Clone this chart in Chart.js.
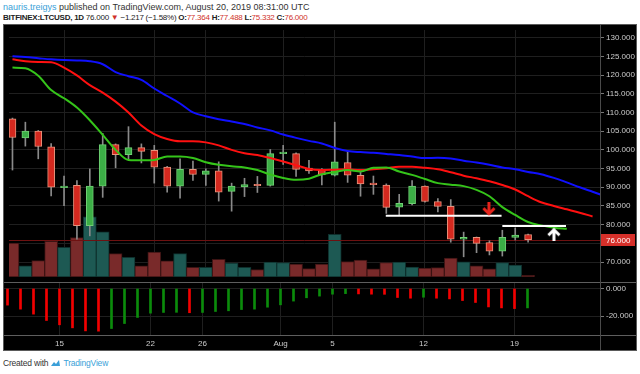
<!DOCTYPE html>
<html>
<head>
<meta charset="utf-8">
<script src="https://cdn.jsdelivr.net/npm/chart.js@4.4.1/dist/chart.umd.min.js"></script>
<style>
    body { margin: 0; width: 640px; height: 374px; overflow: hidden; background: #fff; position: relative;
           font-family: "Liberation Sans", Arial, sans-serif; }
    .hdr { position: absolute; left: 3px; white-space: nowrap; font-size: 9px; color: #333; }
    #hdr1 { top: 2px; }
    #hdr2 { top: 12.5px; color: #222; font-size: 8px; letter-spacing: -0.25px; }
    .user { color: #3a9fd8; }
    .red { color: #d0312a; }
    #box { position: absolute; left: 3px; top: 24px; width: 634px; height: 327px; box-sizing: border-box;
           background: #000; border: 1px solid #5a5a5a; }
    #priceChart { position: absolute; left: 4px; top: 25px; }
    #oscChart { position: absolute; left: 4px; top: 283px; }
    .sep { position: absolute; background: #4a4a4a; }
    #footer { position: absolute; left: 3px; top: 358px; font-size: 8.5px; color: #333; white-space: nowrap; letter-spacing: -0.2px; }
    #footer .tv { color: #3a9fd8; }
</style>
</head>
<body>
<div class="hdr" id="hdr1"><span class="user">nauris.treigys</span> published on TradingView.com, August 20, 2019 08:31:00 UTC</div>
<div class="hdr" id="hdr2"><b>BITFINEX:LTCUSD, 1D</b> 76.000 <span class="red">&#9660;</span> &minus;1.217 (&minus;1.58%) <b>O:</b><span class="red">77.364</span> <b>H:</b><span class="red">77.488</span> <b>L:</b><span class="red">75.332</span> <b>C:</b><span class="red">76.000</span></div>
<div id="box"></div>
<canvas id="priceChart" width="632" height="257"></canvas>
<canvas id="oscChart" width="632" height="67"></canvas>
<div class="sep" style="left:4px;top:282px;width:632px;height:1px;background:#5e5e5e"></div>
<div class="sep" style="left:4px;top:335px;width:632px;height:1px;background:#5e5e5e"></div>
<div class="sep" style="left:600px;top:25px;width:1px;height:325px"></div>
<div id="footer">Created with <svg width="11" height="8" viewBox="0 0 11 8" style="vertical-align:-1px"><path d="M1 7 L4 3 L6 5 L9 1 L10 7 Z" fill="#3a9fd8"/></svg> <span class="tv">TradingView</span></div>

<script>
// Daily candles, Jul 11 to Aug 20 2019
const days = ['Jul 11', 'Jul 12', 'Jul 13', 'Jul 14', 'Jul 15', 'Jul 16', 'Jul 17', 'Jul 18', 'Jul 19', 'Jul 20',
    'Jul 21', 'Jul 22', 'Jul 23', 'Jul 24', 'Jul 25', 'Jul 26', 'Jul 27', 'Jul 28', 'Jul 29', 'Jul 30', 'Jul 31',
    'Aug 1', 'Aug 2', 'Aug 3', 'Aug 4', 'Aug 5', 'Aug 6', 'Aug 7', 'Aug 8', 'Aug 9', 'Aug 10',
    'Aug 11', 'Aug 12', 'Aug 13', 'Aug 14', 'Aug 15', 'Aug 16', 'Aug 17', 'Aug 18', 'Aug 19', 'Aug 20'];
const opens = [108.3, 103.2, 105.0, 100.8, 89.9, 90.5, 79.7, 90.3, 101.4, 98.7,
    100.6, 99.9, 95.4, 90.3, 94.8, 93.4, 94.4, 88.9, 90.1, 90.55, 90.5,
    99.0, 99.0, 95.1, 94.5, 93.2, 96.6, 93.2, 91.0, 90.6, 84.7,
    85.6, 90.3, 86.2, 84.9, 76.1, 76.6, 75.2, 72.9, 76.6, 77.364];
const highs = [108.5, 107.4, 105.2, 101.7, 93.0, 91.8, 94.9, 104.4, 101.6, 106.2,
    101.6, 101.2, 95.6, 97.6, 97.0, 94.9, 96.8, 91.1, 92.4, 92.9, 100.1,
    101.2, 99.2, 97.2, 95.0, 107.4, 99.7, 94.6, 93.0, 90.9, 88.1,
    91.8, 90.4, 87.0, 86.7, 78.0, 76.7, 75.7, 78.5, 79.1, 77.488];
const lows = [94.6, 101.0, 97.6, 87.7, 85.1, 76.1, 77.0, 87.3, 95.2, 97.6,
    96.5, 91.1, 88.7, 87.1, 91.8, 90.5, 86.3, 83.6, 87.5, 88.6, 90.3,
    96.1, 92.9, 93.7, 90.6, 93.0, 91.3, 87.6, 88.1, 83.0, 82.6,
    85.3, 86.0, 83.4, 75.3, 71.4, 72.5, 71.9, 71.6, 75.9, 75.332];
const closes = [103.3, 105.0, 100.9, 90.0, 90.3, 79.7, 90.3, 101.4, 98.7, 100.6,
    99.6, 95.4, 90.3, 94.8, 93.4, 94.4, 88.7, 90.3, 90.7, 90.4, 99.0,
    99.2, 94.8, 94.4, 93.3, 96.8, 93.2, 90.9, 90.7, 84.6, 85.7,
    90.3, 86.2, 84.9, 76.1, 76.6, 75.0, 72.9, 76.6, 77.217, 76.0];
// volume, thousands (no axis shown)
const volumes = [354, 117, 170, 370, 310, 410, 627, 470, 244, 204,
    117, 260, 167, 244, 100, 100, 184, 144, 100, 77, 154,
    150, 134, 87, 134, 444, 160, 177, 84, 150, 154,
    104, 94, 97, 197, 157, 117, 84, 150, 124, 17];

// Alligator lines, shifted forward past the last candle
const jaw = [125.0, 124.8, 124.5, 124.2, 124.0, 123.9, 123.7, 122.9, 120.8, 119.7,
    118.7, 116.4, 114.4, 112.4, 110.0, 109.0, 108.2, 107.6, 106.9, 106.0, 105.2,
    104.1, 103.2, 102.4, 101.7, 100.5, 99.7, 99.4, 99.2, 98.9, 98.6,
    98.2, 97.8, 97.9, 97.7, 97.1, 96.6, 96.0, 95.3, 94.8, 94.1,
    93.5, 92.5, 91.3, 90.0, 88.8, 87.6];
const teeth = [124.2, 123.7, 123.5, 123.4, 122.0, 119.9, 117.3, 115.3, 112.9, 110.0,
    106.5, 104.2, 102.9, 102.3, 102.3, 102.0, 101.2, 100.0, 99.1, 98.6, 97.8,
    96.9, 95.9, 94.9, 94.6, 94.7, 94.8, 94.6, 94.8, 95.1, 95.5,
    95.5, 95.2, 94.8, 94.0, 93.1, 92.4, 91.6, 90.6, 89.4, 87.6,
    86.0, 85.0, 84.1, 83.2, 82.2];
const lips = [122.0, 121.8, 119.8, 116.0, 113.8, 111.3, 107.9, 104.0, 100.0, 97.3,
    97.2, 97.3, 98.2, 98.2, 97.8, 96.7, 96.0, 95.6, 95.3, 94.6, 93.4,
    92.5, 92.0, 92.3, 93.5, 94.1, 94.6, 94.2, 95.2, 95.3, 94.2,
    93.3, 92.2, 91.1, 90.7, 90.3, 89.3, 87.6, 84.7, 82.6, 80.7,
    79.8, 79.2, 78.9];

// lower pane oscillator
const oscillator = [-12.0, -14.9, -18.5, -23.1, -26.2, -28.4, -30.6, -30.8, -28.9, -25.3,
    -20.9, -17.8, -17.3, -17.2, -17.5, -17.3, -16.6, -16.1, -15.2, -14.9, -13.5,
    -11.8, -9.1, -6.7, -5.5, -4.1, -3.7, -3.9, -4.1, -4.2, -6.5,
    -7.0, -6.3, -7.0, -7.5, -8.7, -10.1, -13.3, -14.0, -14.5, -14.0];

// axes
const dateTickIndex = [4, 11, 15, 21, 25, 32, 39];
const dateTickLabels = ['15', '22', '26', 'Aug', '5', '12', '19'];
const priceTicks = [70, 75, 80, 85, 90, 95, 100, 105, 110, 115, 120, 125, 130];
const oscTicks = [0, -20];
const lastClose = 76.0;

// drawn annotations: [fromIndex, toIndex, price]
const supportLines = [[28.96, 37.94, 82.37], [38.0, 42.94, 79.62]];
// [index, price, colour, pointing down]
const arrows = [[36.96, 84.12, '#e8241c', true], [42.0, 77.44, '#ffffff', false]];

const X_MIN = -0.2692;
const X_MAX = 45.577;
const FONT = { family: 'Liberation Sans, Arial, sans-serif', size: 8 };
const GRID = '#1f1f1f';

const rising = opens.map((o, i) => closes[i] >= o);

function arrowImage(color, down) {
    const c = document.createElement('canvas');
    c.width = 14; c.height = 14;
    const g = c.getContext('2d');
    g.strokeStyle = color;
    g.lineWidth = 3;
    g.lineCap = 'square';
    g.beginPath();
    if (down) {
        g.moveTo(7, 1); g.lineTo(7, 11);
        g.moveTo(2.5, 7); g.lineTo(7, 11.5); g.lineTo(11.5, 7);
    } else {
        g.moveTo(7, 13); g.lineTo(7, 3);
        g.moveTo(2.5, 7); g.lineTo(7, 2.5); g.lineTo(11.5, 7);
    }
    g.stroke();
    return c;
}

// last price line and red label on the price axis
const lastPricePlugin = {
    id: 'lastPrice',
    afterDatasetDraw(chart, args) {
        if (args.index !== 0) return;
        const y = Math.round(chart.scales.y.getPixelForValue(lastClose)) + 0.5;
        const ctx = chart.ctx;
        ctx.save();
        ctx.strokeStyle = '#6e1111';
        ctx.lineWidth = 1;
        ctx.beginPath();
        ctx.moveTo(chart.chartArea.left, y);
        ctx.lineTo(chart.chartArea.right, y);
        ctx.stroke();
        ctx.restore();
    },
    afterDraw(chart) {
        const area = chart.chartArea;
        const y = Math.round(chart.scales.y.getPixelForValue(lastClose));
        const ctx = chart.ctx;
        ctx.save();
        ctx.fillStyle = '#d6302a';
        ctx.fillRect(area.right + 1, y - 6, chart.width - area.right - 2, 12);
        ctx.fillStyle = '#ffffff';
        ctx.font = '8px Liberation Sans, Arial, sans-serif';
        ctx.textBaseline = 'middle';
        ctx.fillText(lastClose.toFixed(3), area.right + 6, y + 0.5);
        ctx.restore();
    }
};

function fixAxis(width) {
    return scale => {
        scale.width = width;
        scale.paddingTop = 0;
        scale.paddingBottom = 0;
    };
}

const lineDatasets = [[lips, '#35c41a'], [teeth, '#ff1010'], [jaw, '#1010ff']].map(([vals, color]) => ({
    type: 'line',
    data: vals.map((v, i) => ({ x: i, y: v })),
    borderColor: color,
    borderWidth: 2,
    pointRadius: 0,
    cubicInterpolationMode: 'monotone',
    order: 0
}));

const supportDatasets = supportLines.map(([a, b, p]) => ({
    type: 'line',
    data: [{ x: a, y: p }, { x: b, y: p }],
    borderColor: '#ffffff',
    borderWidth: 2,
    pointRadius: 0,
    order: -1
}));

const arrowDatasets = arrows.map(([i, p, color, down]) => ({
    type: 'line',
    data: [{ x: i, y: p }],
    showLine: false,
    pointStyle: arrowImage(color, down),
    order: -2
}));

new Chart(document.getElementById('priceChart'), {
    type: 'bar',
    data: {
        datasets: [
            {
                // volume
                data: volumes.map((v, i) => ({ x: i, y: v })),
                yAxisID: 'yv',
                backgroundColor: rising.map(r => r ? '#1d5953' : '#792a2a'),
                borderColor: rising.map(r => r ? '#0e302d' : '#3b1313'),
                borderWidth: 1,
                borderSkipped: false,
                barThickness: 13,
                grouped: false,
                order: 10
            },
            {
                // wicks
                data: opens.map((o, i) => ({ x: i, y: [lows[i], highs[i]] })),
                backgroundColor: '#8a8a8a',
                barThickness: 1,
                grouped: false,
                order: 5
            },
            {
                // bodies
                data: opens.map((o, i) => ({ x: i, y: [o, closes[i]] })),
                backgroundColor: rising.map(r => r ? '#3cae46' : '#d4291f'),
                borderColor: rising.map(r => r ? '#70cf74' : '#e8937c'),
                borderWidth: 1,
                borderSkipped: false,
                barThickness: 7,
                minBarLength: 1.5,
                grouped: false,
                order: 4
            },
            ...lineDatasets,
            ...supportDatasets,
            ...arrowDatasets
        ]
    },
    options: {
        responsive: false,
        animation: false,
        layout: { padding: 0 },
        plugins: { legend: { display: false }, tooltip: { enabled: false } },
        scales: {
            x: {
                type: 'linear',
                min: X_MIN,
                max: X_MAX,
                offset: false,
                ticks: { display: false },
                grid: { color: GRID, drawTicks: false, offset: false },
                border: { display: false },
                afterBuildTicks: scale => { scale.ticks = dateTickIndex.map(v => ({ value: v })); },
                afterFit: scale => { scale.height = 0; }
            },
            y: {
                position: 'right',
                min: 66.0,
                max: 132.05,
                grid: { color: GRID, tickColor: '#777', tickLength: 4 },
                border: { display: false },
                ticks: { color: '#cccccc', font: FONT, padding: 2, callback: v => v.toFixed(3) },
                afterBuildTicks: scale => { scale.ticks = priceTicks.map(v => ({ value: v })); },
                afterFit: fixAxis(36)
            },
            yv: {
                display: false,
                min: 0,
                max: 2570
            }
        }
    },
    plugins: [lastPricePlugin]
});

new Chart(document.getElementById('oscChart'), {
    type: 'bar',
    data: {
        datasets: [{
            data: oscillator.map((v, i) => ({ x: i, y: v })),
            backgroundColor: oscillator.map((v, i) => (i > 0 && v > oscillator[i - 1]) ? '#0b8c0b' : '#f20000'),
            barThickness: 2,
            grouped: false
        }]
    },
    options: {
        responsive: false,
        animation: false,
        layout: { padding: 0 },
        plugins: { legend: { display: false }, tooltip: { enabled: false } },
        scales: {
            x: {
                type: 'linear',
                min: X_MIN,
                max: X_MAX,
                offset: false,
                grid: { color: GRID, drawTicks: false, offset: false },
                border: { display: false },
                ticks: {
                    color: '#cccccc', font: FONT, padding: 4, autoSkip: false, maxRotation: 0,
                    callback: (v, idx) => dateTickLabels[idx]
                },
                afterBuildTicks: scale => { scale.ticks = dateTickIndex.map(v => ({ value: v })); },
                afterFit: scale => { scale.height = 15; }
            },
            y: {
                position: 'right',
                min: -33.57,
                max: 3.97,
                grid: { color: GRID, tickColor: '#777', tickLength: 4 },
                border: { display: false },
                ticks: { color: '#cccccc', font: FONT, padding: 2, callback: v => v.toFixed(3) },
                afterBuildTicks: scale => { scale.ticks = oscTicks.map(v => ({ value: v })); },
                afterFit: fixAxis(36)
            }
        }
    }
});
</script>
</body>
</html>
